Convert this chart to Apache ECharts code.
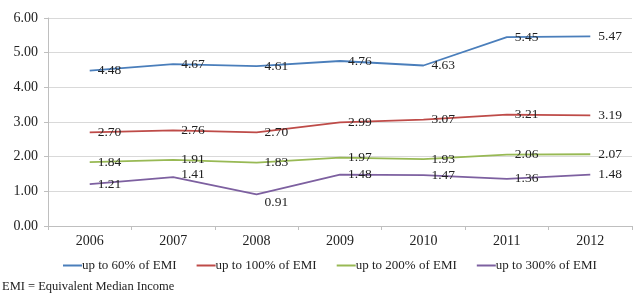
<!DOCTYPE html>
<html>
<head>
<meta charset="utf-8">
<script src="https://cdn.jsdelivr.net/npm/echarts@6/dist/echarts.min.js"></script>
<style>
  html, body { margin: 0; padding: 0; background: #fff; }
  #chart { width: 634px; height: 293px; }
</style>
</head>
<body>
<div id="chart"></div>
<script>
// years on the x axis
const years = ['2006', '2007', '2008', '2009', '2010', '2011', '2012'];

// series values
const upTo60 = [4.48, 4.67, 4.61, 4.76, 4.63, 5.45, 5.47];
const upTo100 = [2.70, 2.76, 2.70, 2.99, 3.07, 3.21, 3.19];
const upTo200 = [1.84, 1.91, 1.83, 1.97, 1.93, 2.06, 2.07];
const upTo300 = [1.21, 1.41, 0.91, 1.48, 1.47, 1.36, 1.48];

const seriesNames = ['up to 60% of EMI', 'up to 100% of EMI', 'up to 200% of EMI', 'up to 300% of EMI'];
const seriesColors = ['#4a7ebb', '#be4b48', '#98b954', '#7d60a0'];

const FONT = '"Liberation Serif", "DejaVu Serif", serif';
const TEXT_COLOR = '#222';
const GRID_COLOR = '#d9d9d9';

// a few labels were nudged by hand in the original (series index -> point index -> offset)
const labelNudges = {
  3: { 1: [0, -3], 2: [0, 8] }
};

const chart = echarts.init(document.getElementById('chart'), null, { renderer: 'canvas' });

function makeSeries(idx, data) {
  const color = seriesColors[idx];
  const nudges = labelNudges[idx] || {};
  return {
    name: seriesNames[idx],
    type: 'line',
    data: data.map(function (v, i) {
      if (nudges[i]) {
        return { value: v, label: { offset: nudges[i] } };
      }
      return v;
    }),
    // labels hang off the symbols, so keep them but make them invisible
    symbol: 'circle',
    symbolSize: 0,
    showSymbol: true,
    lineStyle: { color: color, width: 1.8 },
    itemStyle: { color: color },
    label: {
      show: true,
      position: 'right',
      distance: 8,
      fontFamily: FONT,
      fontSize: 13.5,
      color: TEXT_COLOR,
      formatter: function (p) {
        return p.value.toFixed(2);
      }
    },
    animation: false
  };
}

const option = {
  grid: {
    left: 48,
    right: 2,
    top: 18,
    bottom: 67
  },
  legend: {
    top: 254,
    left: 58,
    itemWidth: 19,
    itemHeight: 2,
    itemGap: 20,
    icon: 'rect',
    textStyle: {
      fontFamily: FONT,
      fontSize: 13,
      color: TEXT_COLOR,
      padding: [0, 0, 0, -5]
    },
    data: seriesNames
  },
  xAxis: {
    type: 'category',
    data: years,
    boundaryGap: true,
    axisLine: { lineStyle: { color: '#bfbfbf' } },
    axisTick: { show: true, length: 4, lineStyle: { color: '#bfbfbf' } },
    axisLabel: { fontFamily: FONT, fontSize: 14, color: TEXT_COLOR, margin: 8 }
  },
  yAxis: {
    type: 'value',
    min: 0,
    max: 6,
    interval: 1,
    axisLine: { show: true, lineStyle: { color: '#bfbfbf' } },
    axisTick: { show: true, length: 4, lineStyle: { color: '#bfbfbf' } },
    splitLine: { lineStyle: { color: GRID_COLOR } },
    axisLabel: {
      fontFamily: FONT,
      fontSize: 14,
      color: TEXT_COLOR,
      margin: 10,
      formatter: function (v) { return v.toFixed(2); }
    }
  },
  graphic: [{
    type: 'text',
    left: 2,
    top: 280,
    style: {
      text: 'EMI = Equivalent Median Income',
      font: '12.5px ' + FONT,
      fill: TEXT_COLOR
    }
  }],
  series: [
    makeSeries(0, upTo60),
    makeSeries(1, upTo100),
    makeSeries(2, upTo200),
    makeSeries(3, upTo300)
  ]
};

chart.setOption(option);
</script>
</body>
</html>
